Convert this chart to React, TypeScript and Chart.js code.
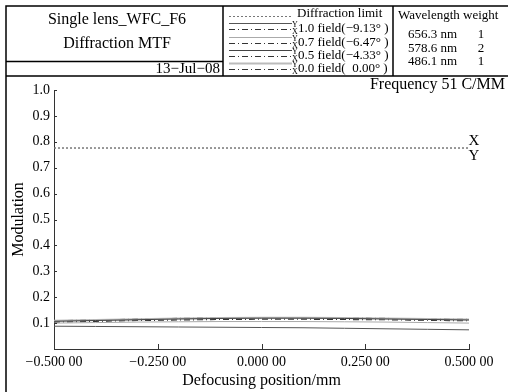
import React, { useEffect, useRef } from "react";
import { Chart, registerables } from "chart.js";
Chart.register(...registerables);

const FONT = "'Liberation Serif', 'Times New Roman', serif";

const defocus = [-0.5, -0.4, -0.3, -0.2, -0.1, 0, 0.1, 0.2, 0.3, 0.4, 0.5];
const diffLimit = [0.776, 0.776, 0.776, 0.776, 0.776, 0.776, 0.776, 0.776, 0.776, 0.776, 0.776];
const f10a = [0.088, 0.087, 0.086, 0.085, 0.084, 0.083, 0.082, 0.080, 0.078, 0.076, 0.074];
const f10b = [0.104, 0.107, 0.110, 0.112, 0.114, 0.115, 0.115, 0.114, 0.113, 0.111, 0.109];
const f07a = [0.100, 0.102, 0.104, 0.105, 0.106, 0.106, 0.106, 0.105, 0.104, 0.102, 0.100];
const f07b = [0.106, 0.109, 0.112, 0.115, 0.117, 0.118, 0.118, 0.117, 0.115, 0.113, 0.111];
const f05a = [0.107, 0.110, 0.113, 0.116, 0.118, 0.119, 0.119, 0.118, 0.116, 0.114, 0.112];
const f05b = [0.108, 0.111, 0.114, 0.117, 0.119, 0.120, 0.120, 0.119, 0.117, 0.115, 0.113];
const f00a = [0.109, 0.112, 0.115, 0.118, 0.120, 0.121, 0.121, 0.120, 0.118, 0.116, 0.114];
const f00b = [0.109, 0.112, 0.115, 0.118, 0.120, 0.121, 0.121, 0.120, 0.118, 0.116, 0.114];

const xTicks = [-0.5, -0.25, 0, 0.25, 0.5];
const fieldLabels = ["1.0 field(\u22129.13\u00b0 )", "0.7 field(\u22126.47\u00b0 )", "0.5 field(\u22124.33\u00b0 )", "0.0 field(  0.00\u00b0 )"];
const wavelengths = ["656.3 nm", "578.6 nm", "486.1 nm"];
const weights = ["1", "2", "1"];

const DASHDOT = [6, 3, 1, 3];
const DOT = [2, 2];

const styleA = [
  { color: "#555", dash: [] as number[], width: 1 },
  { color: "#aaa", dash: [] as number[], width: 1 },
  { color: "#444", dash: [] as number[], width: 1 },
  { color: "#bbb", dash: [] as number[], width: 2 },
];
const styleB = { color: "#333", dash: DASHDOT, width: 1.2 };

const mk = (label: string, ys: number[], color: string, dash: number[], width: number) => ({
  label,
  data: defocus.map((x, i) => ({ x, y: ys[i] })),
  borderColor: color,
  backgroundColor: color,
  borderDash: dash,
  borderWidth: width,
  pointRadius: 0,
  fill: false,
  tension: 0,
});

const headerPlugin = {
  id: "header",
  afterDraw(chart: any) {
    const ctx = chart.ctx as CanvasRenderingContext2D;
    const xs = chart.scales.x;
    const ys = chart.scales.y;
    ctx.save();
    // frame
    ctx.strokeStyle = "#000";
    ctx.lineWidth = 1.5;
    ctx.setLineDash([]);
    ctx.strokeRect(6, 6, 520, 420);
    ctx.beginPath();
    ctx.moveTo(6, 76); ctx.lineTo(510, 76);
    ctx.moveTo(223, 6); ctx.lineTo(223, 76);
    ctx.moveTo(393, 6); ctx.lineTo(393, 76);
    ctx.moveTo(6, 61.5); ctx.lineTo(223, 61.5);
    ctx.stroke();

    ctx.fillStyle = "#000";
    ctx.textBaseline = "middle";
    ctx.font = `16px ${FONT}`;
    ctx.textAlign = "center";
    ctx.fillText("Single lens_WFC_F6", 117, 20);
    ctx.fillText("Diffraction MTF", 117, 44);
    ctx.font = `15px ${FONT}`;
    ctx.textAlign = "right";
    ctx.fillText("13\u2212Jul\u221208", 220, 69);

    // legend
    const lx0 = 229, lx1 = 292;
    ctx.lineWidth = 1;
    ctx.strokeStyle = "#777";
    ctx.setLineDash(DOT);
    ctx.beginPath(); ctx.moveTo(lx0, 16.5); ctx.lineTo(lx1, 16.5); ctx.stroke();
    ctx.font = `13px ${FONT}`;
    ctx.textAlign = "left";
    ctx.fillText("Diffraction limit", 297, 14);
    const rows = [29, 43, 56, 69];
    rows.forEach((ry, i) => {
      const a = styleA[i];
      ctx.strokeStyle = a.color; ctx.lineWidth = a.width; ctx.setLineDash(a.dash);
      ctx.beginPath(); ctx.moveTo(lx0, ry - 5.5); ctx.lineTo(lx1, ry - 5.5); ctx.stroke();
      ctx.strokeStyle = styleB.color; ctx.lineWidth = 1; ctx.setLineDash(styleB.dash);
      ctx.beginPath(); ctx.moveTo(lx0, ry + 0.5); ctx.lineTo(lx1, ry + 0.5); ctx.stroke();
      ctx.setLineDash([]);
      ctx.font = `8px ${FONT}`;
      ctx.textAlign = "center";
      ctx.fillText("Y", 295, ry - 4);
      ctx.fillText("X", 295, ry + 3);
      ctx.font = `13px ${FONT}`;
      ctx.textAlign = "left";
      ctx.fillText(fieldLabels[i], 298, ry);
    });

    ctx.font = `13px ${FONT}`;
    ctx.textAlign = "left";
    ctx.fillText("Wavelength weight", 398, 16);
    wavelengths.forEach((w, i) => {
      const ry = 35 + i * 13.5;
      ctx.textAlign = "left";
      ctx.fillText(w, 408, ry);
      ctx.textAlign = "center";
      ctx.fillText(weights[i], 481, ry);
    });

    ctx.font = `16px ${FONT}`;
    ctx.textAlign = "right";
    ctx.fillText("Frequency 51 C/MM", 505, 85);

    ctx.font = `15px ${FONT}`;
    ctx.textAlign = "center";
    const yDl = ys.getPixelForValue(diffLimit[diffLimit.length - 1]);
    ctx.fillText("X", 474, yDl - 7);
    ctx.fillText("Y", 474, yDl + 8);

    // inward ticks
    ctx.strokeStyle = "#333";
    ctx.lineWidth = 1;
    ctx.beginPath();
    for (let v = 1; v <= 10; v++) {
      const py = Math.round(ys.getPixelForValue(v / 10)) + 0.5;
      ctx.moveTo(xs.left, py); ctx.lineTo(xs.left + 3, py);
    }
    xTicks.forEach((v) => {
      const px = Math.round(xs.getPixelForValue(v)) + 0.5;
      ctx.moveTo(px, ys.bottom); ctx.lineTo(px, ys.bottom - 5);
    });
    ctx.stroke();
    ctx.restore();
  },
};

const fmtX = (v: number) => {
  const s = Math.abs(v).toFixed(5);
  const [a, b] = s.split(".");
  return (v < 0 ? "\u2212" : "") + a + "." + b.slice(0, 3) + " " + b.slice(3);
};

export default function App() {
  const ref = useRef<HTMLCanvasElement>(null);
  useEffect(() => {
    if (!ref.current) return;
    const datasets: any[] = [
      mk("Diffraction limit X", diffLimit, "#777", DOT, 1),
      mk("Diffraction limit Y", diffLimit, "#777", DOT, 1),
      mk("1.0 field Y", f10a, styleA[0].color, styleA[0].dash, styleA[0].width),
      mk("0.7 field Y", f07a, styleA[1].color, styleA[1].dash, styleA[1].width),
      mk("0.5 field Y", f05a, styleA[2].color, styleA[2].dash, styleA[2].width),
      mk("0.0 field Y", f00a, styleA[3].color, styleA[3].dash, styleA[3].width),
      mk("1.0 field X", f10b, styleB.color, styleB.dash, styleB.width),
      mk("0.7 field X", f07b, styleB.color, styleB.dash, styleB.width),
      mk("0.5 field X", f05b, styleB.color, styleB.dash, styleB.width),
      mk("0.0 field X", f00b, styleB.color, styleB.dash, styleB.width),
    ];
    const chart = new Chart(ref.current, {
      type: "line",
      data: { datasets },
      options: {
        responsive: false,
        animation: false,
        devicePixelRatio: 1,
        layout: { padding: { left: 8, top: 90, right: 39, bottom: 2 } },
        plugins: { legend: { display: false }, tooltip: { enabled: false } },
        scales: {
          x: {
            type: "linear",
            min: -0.5,
            max: 0.5,
            afterBuildTicks: (s: any) => { s.ticks = xTicks.map((v) => ({ value: v })); },
            afterFit: (s: any) => { s.height = 41; },
            grid: { display: true, drawOnChartArea: false, drawTicks: false },
            border: { display: true, color: "#333", width: 1 },
            ticks: {
              color: "#000",
              font: { family: FONT, size: 14 },
              padding: 5,
              maxRotation: 0,
              autoSkip: false,
              callback: (v: any) => fmtX(Number(v)),
            },
            title: {
              display: true,
              text: "Defocusing position/mm",
              color: "#000",
              font: { family: FONT, size: 16 },
              padding: { top: 0, bottom: 0 },
            },
          },
          y: {
            type: "linear",
            min: 0,
            max: 1,
            afterFit: (s: any) => { s.width = 46; },
            grid: { display: true, drawOnChartArea: false, drawTicks: false },
            border: { display: true, color: "#333", width: 1 },
            ticks: {
              stepSize: 0.1,
              color: "#000",
              font: { family: FONT, size: 14 },
              padding: 4,
              callback: (v: any) => (Number(v) < 0.05 ? "" : Number(v).toFixed(1)),
            },
            title: {
              display: true,
              text: "Modulation",
              color: "#000",
              font: { family: FONT, size: 16 },
              padding: { top: 1, bottom: 0 },
            },
          },
        },
      },
      plugins: [headerPlugin],
    });
    return () => chart.destroy();
  }, []);
  return (
    <div style={{ position: "absolute", left: 0, top: 0, width: 508, height: 392, background: "#fff" }}>
      <canvas ref={ref} width={508} height={392} style={{ display: "block" }} />
    </div>
  );
}
